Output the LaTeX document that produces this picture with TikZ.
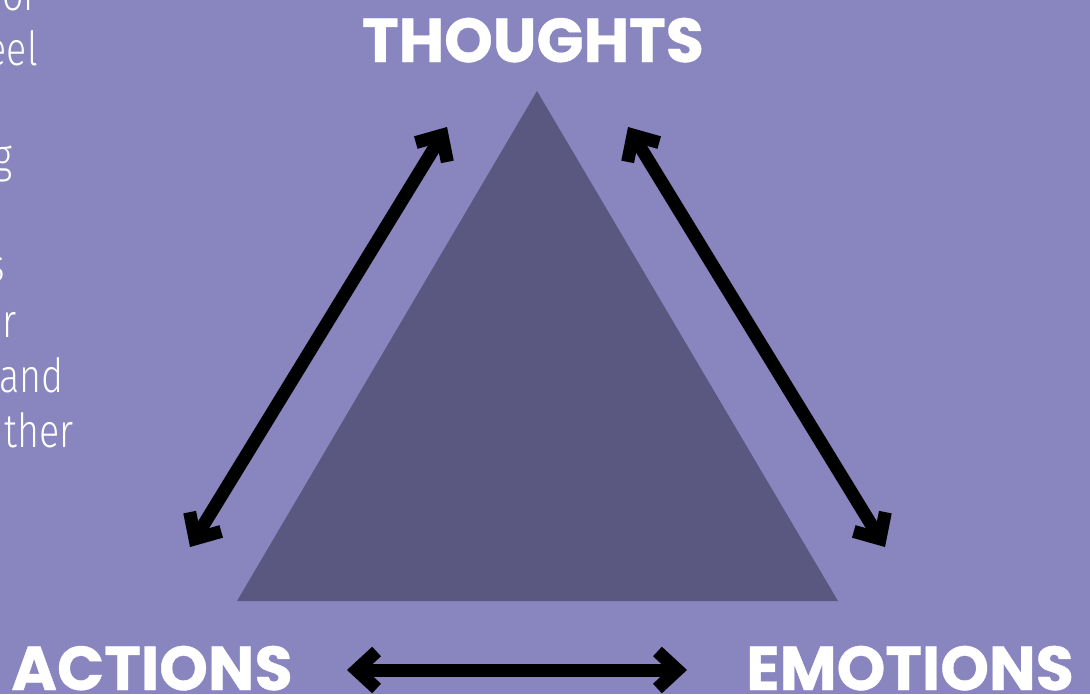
\documentclass[tikz,border=0pt]{standalone}
\usepackage{fontspec}
\usetikzlibrary{arrows.meta}
\newfontfamily\popfont{Poppins}[BoldFeatures={FakeBold=0.6}]
\newfontfamily\thinfont{Fira Sans Light}
\definecolor{bgc}{HTML}{8985BF}
\definecolor{tric}{HTML}{5A5880}
\tikzset{
  label/.style={text=white, inner sep=0pt, font=\popfont\bfseries\fontsize{62}{62}\selectfont},
  frag/.style={text=white, inner sep=0pt, anchor=base east, font=\thinfont\fontsize{47}{47}\selectfont},
  biarrow/.style={line width=13pt, {Straight Barb[length=20pt,width=37pt]}-{Straight Barb[length=20pt,width=37pt]}}
}
\newcommand\sq[1]{\scalebox{0.8}[1]{#1}}
\begin{document}
\begin{tikzpicture}[x=1pt,y=-1pt]
\fill[bgc] (0,0) rectangle (1090,694);
\useasboundingbox (0,0) rectangle (1090,694);
% triangle
\fill[tric] (537,91) -- (838,601) -- (237,601) -- cycle;
% labels
\node[label, anchor=base] (thoughts) at (533,62) {THOUGHTS};
\node[label, anchor=base] (actions) at (152,690) {ACTIONS};
\node[label, anchor=base] (emotions) at (910,690) {EMOTIONS};
% cut-off text fragments
\node[frag] (f1) at (38,10) {\sq{or}};
\node[frag] (f2) at (38,65) {\sq{eel}};
\node[frag] (f3) at (13,172) {\sq{g}};
\node[frag] (f4) at (5,281) {\sq{s}};
\node[frag] (f5) at (17,337) {\sq{r}};
\node[frag] (f6) at (64,392) {\sq{and}};
\node[frag] (f7) at (74,447) {\sq{ther}};
% arrows
\coordinate (la) at (190,547);
\coordinate (lb) at (447,127);
\coordinate (ra) at (628,127);
\coordinate (rb) at (885,547);
\coordinate (ba) at (347,670);
\coordinate (bb) at (687,670);
\draw[biarrow] (la) -- (lb);
\draw[biarrow] (ra) -- (rb);
\draw[biarrow] (ba) -- (bb);
\end{tikzpicture}
\end{document}
